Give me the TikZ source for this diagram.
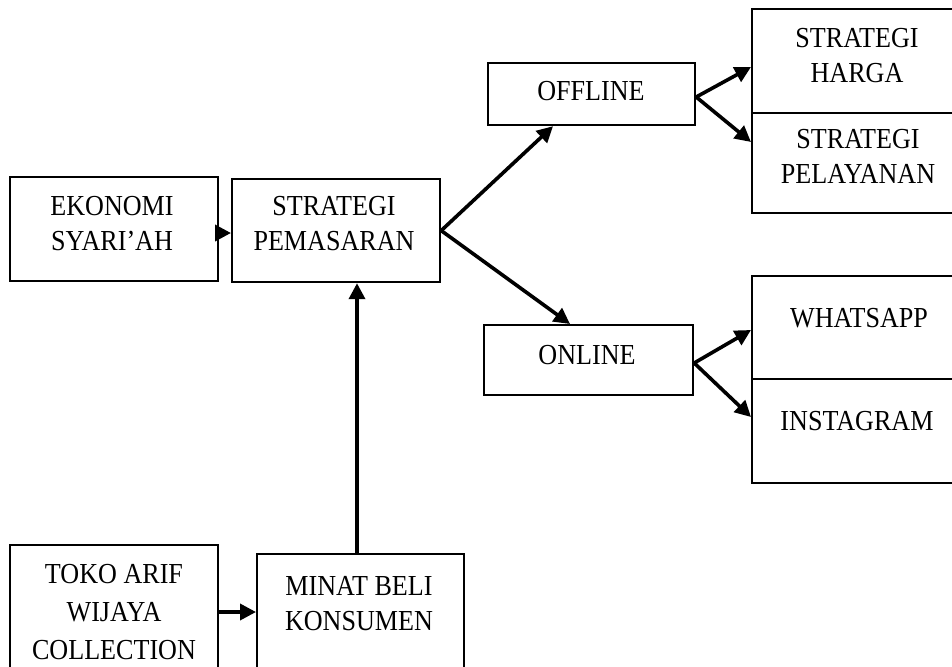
\documentclass[tikz,border=0pt]{standalone}
\usepackage{fontspec}
\newfontfamily\diafont[FakeStretch=0.9]{Liberation Serif}
\usetikzlibrary{arrows.meta,calc}
\tikzset{
  boxnode/.style={draw=black, line width=2.2pt, anchor=north west, inner sep=0pt, minimum width=#1},
  lbl/.style={font=\diafont\fontsize{29}{35}\selectfont, align=center, anchor=base, inner sep=0pt},
  arr/.style={line width=3.6pt, -{Triangle[length=16pt,width=16pt]}},
}
\begin{document}
\begin{tikzpicture}[x=1pt,y=-1pt]
\useasboundingbox (0,0) rectangle (952,666);
\clip (0,0) rectangle (952,666);
% boxes
\node[boxnode=208pt, minimum height=104pt] (eko) at (9,176) {};
\node[boxnode=208pt, minimum height=103pt] (pem) at (231,178) {};
\node[boxnode=207pt, minimum height=62pt] (off) at (487,62) {};
\node[boxnode=209pt, minimum height=70pt] (onl) at (483,324) {};
\node[boxnode=230pt, minimum height=104pt] (har) at (751,8) {};
\node[boxnode=230pt, minimum height=100pt] (pel) at (751,112) {};
\node[boxnode=230pt, minimum height=103pt] (wa) at (751,275) {};
\node[boxnode=230pt, minimum height=104pt] (ig) at (751,378) {};
\node[boxnode=208pt, minimum height=140pt] (toko) at (9,544) {};
\node[boxnode=207pt, minimum height=130pt] (minat) at (256,553) {};
% texts (anchor = baseline of the last line)
\node[lbl] (tEko) at (112,250) {EKONOMI\\SYARI’AH};
\node[lbl] (tPem) at (334,250) {STRATEGI\\PEMASARAN};
\node[lbl] (tOff) at (591,101) {OFFLINE};
\node[lbl] (tOnl) at (587,364) {ONLINE};
\node[lbl] (tHar) at (857,83) {STRATEGI\\HARGA};
\node[lbl] (tPel) at (858,183) {STRATEGI\\PELAYANAN};
\node[lbl] (tWa) at (859,327) {WHATSAPP};
\node[lbl] (tIg) at (857,430) {INSTAGRAM};
\node[lbl, font=\diafont\fontsize{29}{38}\selectfont] (tToko) at (114,659) {TOKO ARIF\\WIJAYA\\COLLECTION};
\node[lbl] (tMin) at (359,630) {MINAT BELI\\KONSUMEN};
% connector end points
\coordinate (ekoOut) at ($(eko.north east)+(0,57)$);
\coordinate (offIn) at ($(off.south west)+(66,0)$);
\coordinate (onlIn) at ($(onl.north west)+(87,0)$);
\coordinate (harIn) at ($(har.north west)+(0,59)$);
\coordinate (pelIn) at ($(pel.north west)+(0,30)$);
\coordinate (waIn) at ($(wa.north west)+(0,55)$);
\coordinate (igIn) at ($(ig.north west)+(0,39)$);
\coordinate (offOut) at ($(off.north east)+(0,35)$);
\coordinate (onlOut) at ($(onl.north east)+(0,39)$);
\coordinate (tokoOut) at ($(toko.north east)+(0,68)$);
\coordinate (minOut) at ($(minat.north west)+(101,0)$);
% connectors
\draw[arr] (ekoOut) -- (ekoOut -| pem.west);
\draw[arr] (pem.east) -- (offIn);
\draw[arr] (pem.east) -- (onlIn);
\draw[arr] (offOut) -- (harIn);
\draw[arr] (offOut) -- (pelIn);
\draw[arr] (onlOut) -- (waIn);
\draw[arr] (onlOut) -- (igIn);
\draw[arr] (tokoOut) -- (tokoOut -| minat.west);
\draw[arr] (minOut) -- (minOut |- pem.south);
\end{tikzpicture}
\end{document}
